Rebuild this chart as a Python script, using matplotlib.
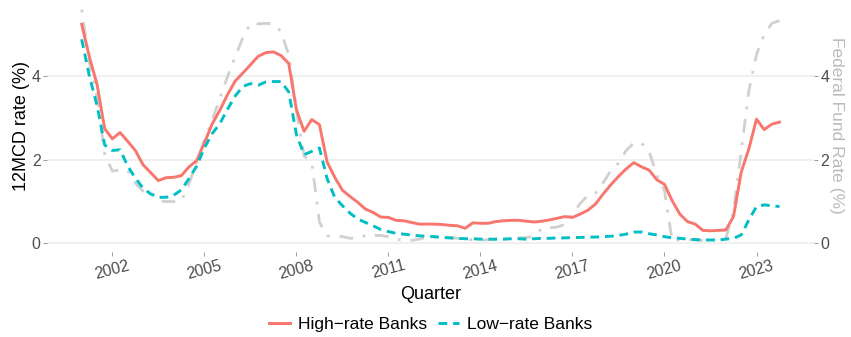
import numpy as np
import pandas as pd
import matplotlib
matplotlib.use("Agg")
import matplotlib.pyplot as plt

plt.rcParams['font.family'] = ['Liberation Sans', 'DejaVu Sans']

# quarterly series, 2001Q1 - 2023Q4
quarters = pd.period_range('2001Q1', '2023Q4', freq='Q')

high_rate = [5.24, 4.46, 3.80, 2.74, 2.50, 2.65, 2.44, 2.22, 1.88, 1.69,
             1.50, 1.57, 1.58, 1.62, 1.83, 1.98, 2.40, 2.85, 3.18, 3.55,
             3.88, 4.07, 4.27, 4.47, 4.56, 4.58, 4.49, 4.30, 3.20, 2.68,
             2.96, 2.84, 1.95, 1.58, 1.27, 1.12, 0.98, 0.82, 0.74, 0.63,
             0.62, 0.55, 0.54, 0.50, 0.46, 0.46, 0.46, 0.45, 0.43, 0.42,
             0.36, 0.49, 0.48, 0.48, 0.52, 0.54, 0.55, 0.55, 0.53, 0.51,
             0.53, 0.56, 0.60, 0.64, 0.62, 0.70, 0.79, 0.94, 1.18, 1.40,
             1.60, 1.78, 1.93, 1.83, 1.75, 1.52, 1.41, 1.02, 0.70, 0.52,
             0.46, 0.31, 0.30, 0.31, 0.32, 0.64, 1.70, 2.26, 2.97, 2.72,
             2.85, 2.90]

low_rate = [4.88, 4.00, 3.30, 2.35, 2.22, 2.24, 1.85, 1.56, 1.32, 1.18,
            1.10, 1.10, 1.15, 1.28, 1.55, 1.85, 2.28, 2.62, 2.86, 3.20,
            3.52, 3.75, 3.82, 3.78, 3.86, 3.87, 3.87, 3.62, 2.60, 2.12,
            2.20, 2.28, 1.55, 1.10, 0.90, 0.72, 0.58, 0.50, 0.42, 0.33,
            0.28, 0.24, 0.22, 0.20, 0.18, 0.17, 0.16, 0.14, 0.13, 0.12,
            0.11, 0.11, 0.10, 0.10, 0.10, 0.10, 0.11, 0.11, 0.10, 0.11,
            0.12, 0.12, 0.13, 0.13, 0.14, 0.14, 0.15, 0.15, 0.16, 0.17,
            0.19, 0.22, 0.27, 0.27, 0.23, 0.20, 0.16, 0.13, 0.12, 0.10,
            0.09, 0.08, 0.08, 0.08, 0.10, 0.12, 0.20, 0.56, 0.88, 0.92,
            0.90, 0.88]

fed_funds = [5.59, 4.33, 3.50, 2.13, 1.73, 1.75, 1.74, 1.44, 1.25, 1.25,
             1.02, 1.00, 1.00, 1.01, 1.43, 1.95, 2.47, 2.94, 3.46, 3.98,
             4.46, 4.91, 5.25, 5.25, 5.26, 5.25, 5.07, 4.50, 3.18, 2.09,
             1.94, 0.51, 0.18, 0.18, 0.16, 0.12, 0.13, 0.19, 0.19, 0.19,
             0.16, 0.09, 0.08, 0.07, 0.10, 0.15, 0.14, 0.16, 0.14, 0.12,
             0.08, 0.09, 0.07, 0.09, 0.09, 0.10, 0.11, 0.13, 0.14, 0.16,
             0.36, 0.37, 0.39, 0.45, 0.70, 0.95, 1.15, 1.20, 1.45, 1.74,
             1.92, 2.22, 2.40, 2.40, 2.19, 1.64, 1.26, 0.06, 0.09, 0.09,
             0.08, 0.07, 0.09, 0.08, 0.12, 0.77, 2.19, 3.65, 4.52, 4.99,
             5.26, 5.33]

year_ticks = [2002, 2005, 2008, 2011, 2014, 2017, 2020, 2023]
rate_ticks = [0, 2, 4]

x = quarters.year + (quarters.quarter - 1) / 4.0

red = '#F8766D'
teal = '#00BFC4'
grey_line = '#D0D0D0'
tick_col = '#4D4D4D'

fig = plt.figure(figsize=(8.51, 3.37), dpi=100)
ax = fig.add_axes([0.055, 0.2531, 0.902, 0.7469])

ax.plot(x, fed_funds, color=grey_line, lw=2.0, dashes=(1, 3.5, 5, 3.5),
        solid_capstyle='butt', dash_capstyle='butt', zorder=2)
ax.plot(x, high_rate, color=red, lw=2.1, zorder=3, label='High\u2212rate Banks')
ax.plot(x, low_rate, color=teal, lw=2.1, dashes=(3, 2), dash_capstyle='butt',
        zorder=3, label='Low\u2212rate Banks')

span = x[-1] - x[0]
ax.set_xlim(x[0] - 0.05 * span, x[-1] + 0.05 * span)
ax.set_ylim(-0.2, 5.82)

ax.set_xticks(year_ticks)
ax.set_xticklabels([str(y) for y in year_ticks], rotation=15, ha='center',
                   fontsize=11.5, color=tick_col)
ax.set_yticks(rate_ticks)
ax.set_yticklabels([str(v) for v in rate_ticks], fontsize=11.5, color=tick_col)
ax.tick_params(axis='both', length=3, width=0.7, color='#999999', pad=1.5)
ax.grid(axis='y', color='#EBEBEB', lw=1.1)
ax.set_axisbelow(True)
for s in ax.spines.values():
    s.set_visible(False)

ax.set_ylabel('12MCD rate (%)', fontsize=13, color='black', labelpad=1)
ax.set_xlabel('Quarter', fontsize=13, color='black', labelpad=3)

# right-hand axis for the federal funds rate (same scale)
ax2 = ax.twinx()
ax2.set_ylim(ax.get_ylim())
ax2.set_yticks(rate_ticks)
ax2.set_yticklabels([str(v) for v in rate_ticks], fontsize=11.5, color=tick_col)
ax2.tick_params(axis='y', length=3, width=0.7, color='#999999', pad=1.5)
for s in ax2.spines.values():
    s.set_visible(False)
ax2.set_ylabel('Federal Fund Rate (%)', fontsize=12.5, color='#BBBBBB',
               rotation=-90, labelpad=10)

handles, labels = ax.get_legend_handles_labels()
fig.legend(handles, labels, loc='center', bbox_to_anchor=(0.506, 0.036),
           ncol=2, frameon=False, fontsize=12.5, handlelength=1.2,
           handletextpad=0.5, columnspacing=0.6)

fig.savefig('out.png', dpi=100)
